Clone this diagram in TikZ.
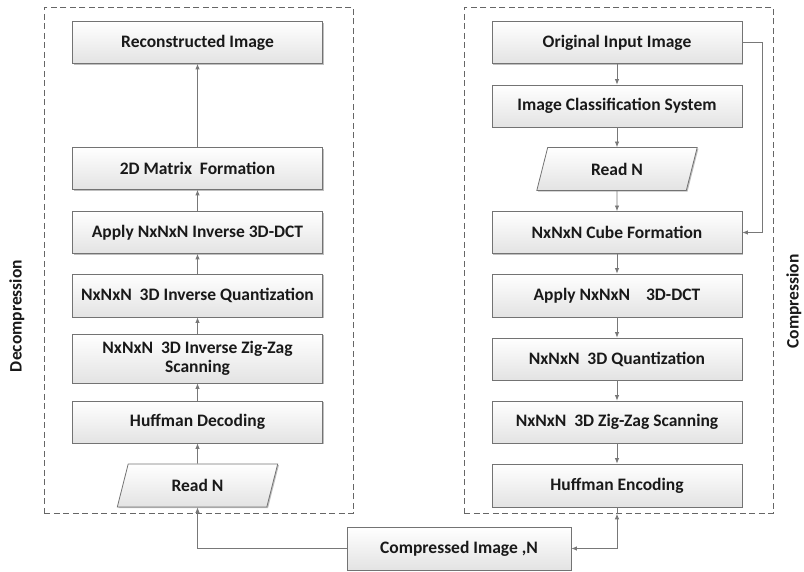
\documentclass[tikz,border=0pt]{standalone}
\usepackage{fontspec}
\setmainfont{Carlito}
\usetikzlibrary{arrows.meta,shapes.geometric,shadows,calc}
\definecolor{edge}{RGB}{115,115,115}
\definecolor{conn}{RGB}{120,120,120}
\definecolor{txt}{RGB}{25,25,25}
\tikzset{
  procbox/.style={draw=edge, line width=0.8pt, top color=white, bottom color=black!11,
    minimum width=250pt, minimum height=42pt, inner sep=2pt, align=center,
    font=\fontsize{17.5}{19.5}\selectfont\bfseries, text=txt,
    drop shadow={shadow xshift=1.2pt, shadow yshift=-1.2pt, opacity=0.25, fill=black}},
  iobox/.style={procbox, trapezium, trapezium left angle=75, trapezium right angle=105,
    trapezium stretches=true, minimum width=161pt, minimum height=43pt},
  frame/.style={draw=black!60, line width=0.8pt, dash pattern=on 6pt off 3.5pt},
  conarrow/.style={draw=conn, line width=0.8pt, -{Latex[length=5.5pt,width=4.5pt]}},
  sidelabel/.style={font=\fontsize{17.5}{19.5}\selectfont\bfseries, text=txt, rotate=90, anchor=base, inner sep=0pt}
}
\begin{document}
\begin{tikzpicture}[x=1pt,y=-1pt]
\useasboundingbox (0,0) rectangle (804,572);
% frames
\node[frame, minimum width=309pt, minimum height=506pt, anchor=north west, inner sep=0pt] (lframe) at (44,7) {};
\node[frame, minimum width=309pt, minimum height=506pt, anchor=north west, inner sep=0pt] (rframe) at (464,7) {};
% left column (decompression)
\node[procbox] (recon) at (197.5,42.5) {Reconstructed Image};
\node[procbox] (matrix) at (197.5,168.5) {2D Matrix\ \ Formation};
\node[procbox] (idct) at (197.5,232.5) {Apply NxNxN Inverse 3D-DCT};
\node[procbox, minimum height=43pt] (iquant) at (197.5,295.5) {NxNxN\ \ 3D Inverse Quantization};
\node[procbox, minimum height=49pt] (izig) at (197.5,358.5) {NxNxN\ \ 3D Inverse Zig-Zag\\Scanning};
\node[procbox] (hdec) at (197.5,422) {Huffman Decoding};
\node[iobox] (readL) at (197.5,485.5) {Read N};
% right column (compression)
\node[procbox] (orig) at (617,42.5) {Original Input Image};
\node[procbox] (classif) at (617,106) {Image Classification System};
\node[iobox] (readR) at (617,169) {Read N};
\node[procbox] (cube) at (617,232.5) {NxNxN Cube Formation};
\node[procbox, minimum height=43pt] (dct) at (617,295.5) {Apply NxNxN\ \ \ \ 3D-DCT};
\node[procbox] (quant) at (617,359) {NxNxN\ \ 3D Quantization};
\node[procbox] (zig) at (617,422) {NxNxN\ \ 3D Zig-Zag Scanning};
\node[procbox, minimum height=43pt] (henc) at (617,485.5) {Huffman Encoding};
% compressed image
\node[procbox, minimum width=224pt, minimum height=43pt] (comp) at (459,548.5) {Compressed Image ,N};
% side labels
\node[sidelabel] (dlabel) at (21.5,316) {Decompression};
\node[sidelabel] (clabel) at (798.5,301.5) {Compression};
% left arrows (upwards)
\draw[conarrow] (readL) -- (hdec);
\draw[conarrow] (hdec) -- (izig);
\draw[conarrow] (izig) -- (iquant);
\draw[conarrow] (iquant) -- (idct);
\draw[conarrow] (idct) -- (matrix);
\draw[conarrow] (matrix) -- (recon);
% right arrows (downwards)
\draw[conarrow] (orig) -- (classif);
\draw[conarrow] (classif) -- (readR);
\draw[conarrow] (readR) -- (cube);
\draw[conarrow] (cube) -- (dct);
\draw[conarrow] (dct) -- (quant);
\draw[conarrow] (quant) -- (zig);
\draw[conarrow] (zig) -- (henc);
% feedback
\coordinate (fb) at ($(orig.east)+(20,0)$);
\draw[conarrow] (orig.east) -- (fb) |- (cube.east);
% bottom connections
\coordinate (hb) at (rframe.south -| henc.south);
\draw[draw=conn, line width=0.8pt] (henc.south) -- (hb);
\draw[draw=conn, line width=0.8pt, {Latex[length=5.5pt,width=4.5pt]}-{Latex[length=5.5pt,width=4.5pt]}] (hb) |- (comp.east);
\draw[conarrow] (comp.west) -| (readL.south);
\end{tikzpicture}
\end{document}
